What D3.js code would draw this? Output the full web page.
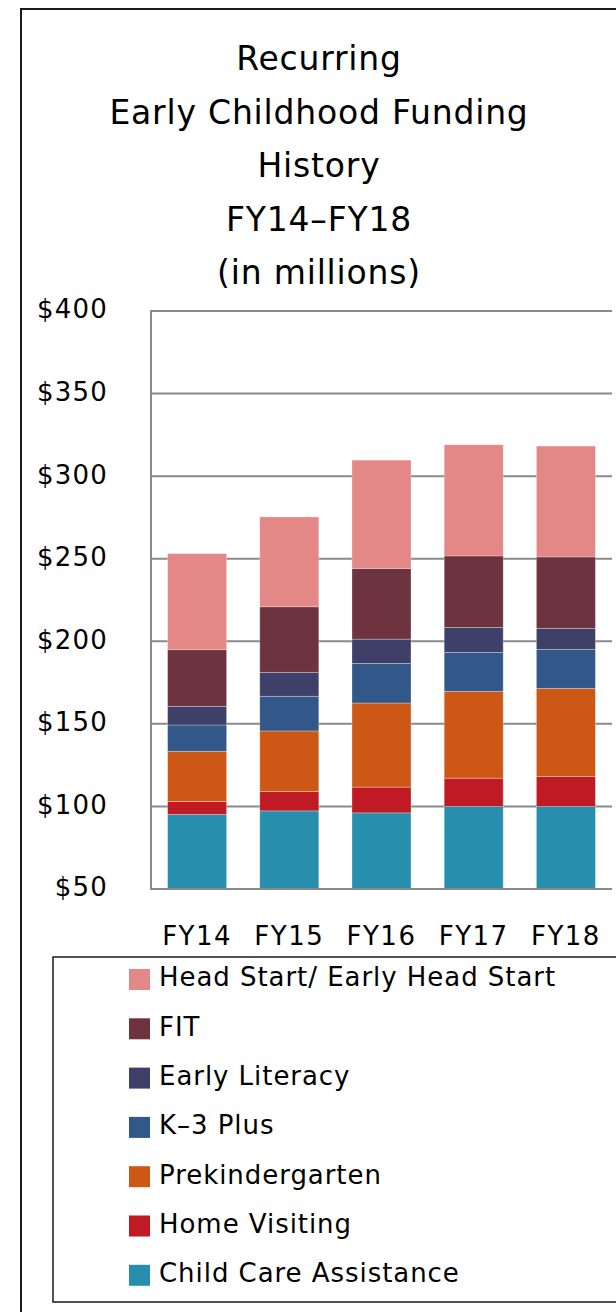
<!DOCTYPE html>
<html><head><meta charset="utf-8">
<script src="https://cdn.jsdelivr.net/npm/d3@7"></script>
<style>html,body{margin:0;padding:0;background:#fff;}svg{display:block;}</style>
</head><body>
<script>
const years = ["FY14","FY15","FY16","FY17","FY18"];
const seriesNames = ["Child Care Assistance","Home Visiting","Prekindergarten","K-3 Plus","Early Literacy","FIT","Head Start/ Early Head Start"];
const childCare = [95.1, 97.3, 96.1, 100.0, 100.0];
const homeVisiting = [7.9, 11.7, 15.6, 17.1, 18.1];
const preK = [30.4, 36.7, 50.9, 52.6, 53.4];
const k3Plus = [15.9, 21.0, 24.0, 23.6, 23.6];
const earlyLiteracy = [11.3, 14.5, 14.7, 15.1, 12.7];
const fit = [34.3, 39.7, 42.8, 43.3, 43.3];
const headStart = [58.2, 54.4, 65.6, 67.3, 67.1];
const colors = ["#278fad","#c01b24","#cd5816","#32588a","#3f4069","#6d333f","#e38787"];
const yTicks = [50,100,150,200,250,300,350,400];
const titleLines = ["Recurring","Early Childhood Funding","History","FY14\u2013FY18","(in millions)"];

const seriesValues = [childCare, homeVisiting, preK, k3Plus, earlyLiteracy, fit, headStart];
const table = years.map((y,i)=>{const o={year:y}; seriesNames.forEach((s,j)=>o[s]=seriesValues[j][i]); return o;});
const stacked = d3.stack().keys(seriesNames)(table);

const W=616,H=1312;
const svg=d3.select("body").append("svg").attr("width",W).attr("height",H);
const font="'DejaVu Sans', sans-serif";

// frame
svg.append("rect").attr("x",21).attr("y",9).attr("width",W).attr("height",H)
  .attr("fill","none").attr("stroke","#1a1a1a").attr("stroke-width",2);

// title
svg.append("g").selectAll("text").data(titleLines).join("text")
  .attr("x",319).attr("y",(d,i)=>70+i*53.5).attr("text-anchor","middle")
  .attr("font-family",font).attr("font-size",33).attr("letter-spacing",0.8).attr("fill","#000").text(d=>d);

const x=d3.scaleBand().domain(years).range([151,612]).paddingInner(0.36).paddingOuter(0.18);
const y=d3.scaleLinear().domain([50,400]).range([889,311]);

// gridlines
svg.append("g").selectAll("line").data(yTicks.filter(t=>t>50)).join("line")
  .attr("x1",151).attr("x2",612).attr("y1",d=>y(d)).attr("y2",d=>y(d))
  .attr("stroke","#8a8a8a").attr("stroke-width",2);

// bars
svg.append("g").selectAll("g").data(stacked).join("g")
  .attr("fill",(d,i)=>colors[i])
  .selectAll("rect").data(d=>d).join("rect")
  .attr("x",d=>x(d.data.year)).attr("width",x.bandwidth())
  .attr("y",d=>y(d[1])).attr("height",d=>y(Math.max(50,d[0]))-y(d[1]))
  .attr("stroke","rgba(255,255,255,0.35)").attr("stroke-width",0.8);

// axes lines
svg.append("line").attr("x1",151).attr("x2",151).attr("y1",310).attr("y2",890).attr("stroke","#8a8a8a").attr("stroke-width",2);
svg.append("line").attr("x1",150).attr("x2",612).attr("y1",889).attr("y2",889).attr("stroke","#8a8a8a").attr("stroke-width",2);

// y labels
svg.append("g").selectAll("text").data(yTicks).join("text")
  .attr("x",108).attr("y",d=>y(d)-2).attr("dy","0.36em").attr("text-anchor","end")
  .attr("font-family",font).attr("font-size",26).attr("letter-spacing",1.2).attr("fill","#000")
  .text(d=>"$"+d);

// x labels
svg.append("g").selectAll("text").data(years).join("text")
  .attr("x",d=>x(d)+x.bandwidth()/2).attr("y",945).attr("text-anchor","middle")
  .attr("font-family",font).attr("font-size",26).attr("letter-spacing",1.5).attr("fill","#000")
  .text(d=>d);

// legend
svg.append("rect").attr("x",53).attr("y",957).attr("width",W).attr("height",345)
  .attr("fill","none").attr("stroke","#1a1a1a").attr("stroke-width",1.5);
const legendOrder = seriesNames.map((s,i)=>({name:s,color:colors[i]})).reverse();
const lg=svg.append("g").selectAll("g").data(legendOrder).join("g")
  .attr("transform",(d,i)=>`translate(0,${977+i*49.3})`);
lg.append("rect").attr("x",129).attr("y",-8).attr("width",21).attr("height",21).attr("fill",d=>d.color);
lg.append("text").attr("x",159).attr("y",0).attr("dy","0.36em")
  .attr("font-family",font).attr("font-size",26).attr("letter-spacing",0.95).attr("fill","#000").text(d=>d.name.replace("K-3","K\u20133"));
</script>
</body></html>
